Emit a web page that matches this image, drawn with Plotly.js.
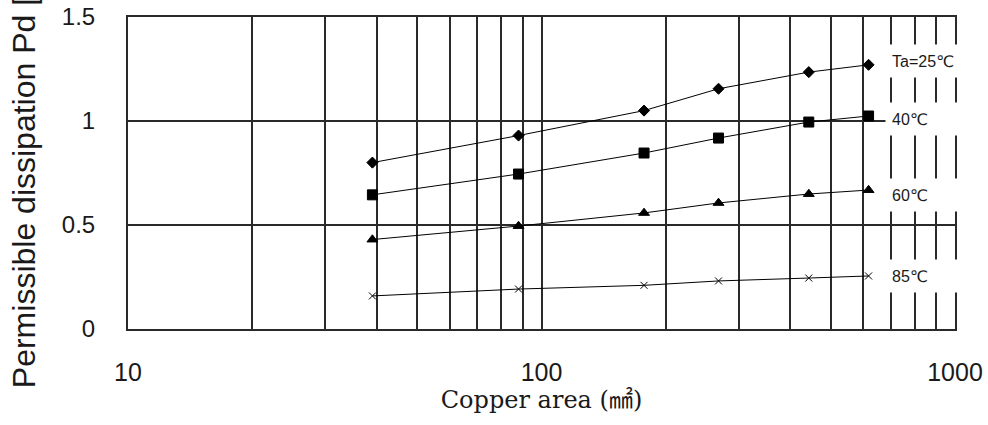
<!DOCTYPE html>
<html>
<head>
<meta charset="utf-8">
<script src="https://cdn.plot.ly/plotly-3.0.1.min.js"></script>
<style>html,body{margin:0;padding:0;background:#fff;}#chart{width:988px;height:425px;}</style>
</head>
<body>
<div id="chart"></div>
<script>
// Copper area (mm^2)
const copperArea = [39, 88, 177, 268, 443, 618];
// Permissible dissipation Pd [W] at each ambient temperature
const pd25 = [0.80, 0.93, 1.05, 1.155, 1.235, 1.27];
const pd40 = [0.645, 0.745, 0.846, 0.918, 0.995, 1.024];
const pd60 = [0.43, 0.495, 0.558, 0.606, 0.649, 0.668];
const pd85 = [0.159, 0.192, 0.21, 0.231, 0.245, 0.255];

const seriesNames = ['Ta=25℃', '40℃', '60℃', '85℃'];
const seriesLabelY = [1.29, 1.01, 0.645, 0.255];

const xTickVals = [10,20,30,40,50,60,70,80,90,100,200,300,400,500,600,700,800,900,1000];
const xTickText = ['10','','','','','','','','','100','','','','','','','','','1000'];
const yTickVals = [0, 0.5, 1, 1.5];
const yTickText = ['0', '0.5', '1', '1.5'];

const sans = 'Liberation Sans, Arial, DejaVu Sans, sans-serif';
const symbols = ['diamond', 'square', 'triangle-up', 'x-thin-open'];
const sizes = [8.5, 10, 9.5, 7];
const allY = [pd25, pd40, pd60, pd85];

const traces = allY.map((ys, i) => ({
  type: 'scatter',
  mode: 'lines+markers',
  name: seriesNames[i],
  x: copperArea,
  y: ys,
  line: {color: '#000', width: 1},
  marker: {symbol: symbols[i], size: sizes[i], color: '#000', line: {color: '#000', width: 1}},
  cliponaxis: false
}));

const annotations = seriesNames.map((t, i) => ({
  text: t,
  xref: 'paper', yref: 'y',
  x: 0.9154, y: seriesLabelY[i],
  xanchor: 'left', yanchor: 'middle',
  showarrow: false,
  align: 'left',
  width: 70, height: 20,
  borderpad: 6,
  bgcolor: '#fff',
  font: {family: sans, size: 16, color: '#1a1a1a'}
}));

const layout = {
  width: 988, height: 425,
  margin: {l: 128, r: 33, t: 17, b: 96},
  paper_bgcolor: '#fff', plot_bgcolor: '#fff',
  showlegend: false,
  xaxis: {
    type: 'log',
    range: [1, 3],
    tickmode: 'array',
    tickvals: xTickVals,
    ticktext: xTickText,
    ticks: '',
    ticklabelstandoff: 20,
    showgrid: true, gridcolor: '#2a2a2a', gridwidth: 2,
    showline: true, linecolor: '#2a2a2a', linewidth: 2, mirror: true,
    zeroline: false,
    tickfont: {family: sans, size: 25, color: '#1a1a1a'},
    title: {text: 'Copper area (㎟)', standoff: 6,
            font: {family: 'DejaVu Serif, Noto Sans CJK JP, serif', size: 24, color: '#1a1a1a'}}
  },
  yaxis: {
    range: [0, 1.5],
    tickmode: 'array',
    tickvals: yTickVals,
    ticktext: yTickText,
    ticks: '',
    ticklabelstandoff: 26,
    showgrid: true, gridcolor: '#2a2a2a', gridwidth: 2,
    showline: true, linecolor: '#2a2a2a', linewidth: 2, mirror: true,
    zeroline: false,
    tickfont: {family: sans, size: 24, color: '#1a1a1a'},
    title: {text: 'Permissible dissipation Pd [W]', standoff: 17,
            font: {family: sans, size: 32, color: '#1a1a1a'}}
  },
  annotations: annotations
};

Plotly.newPlot('chart', traces, layout, {displayModeBar: false, staticPlot: true});
</script>
</body>
</html>
